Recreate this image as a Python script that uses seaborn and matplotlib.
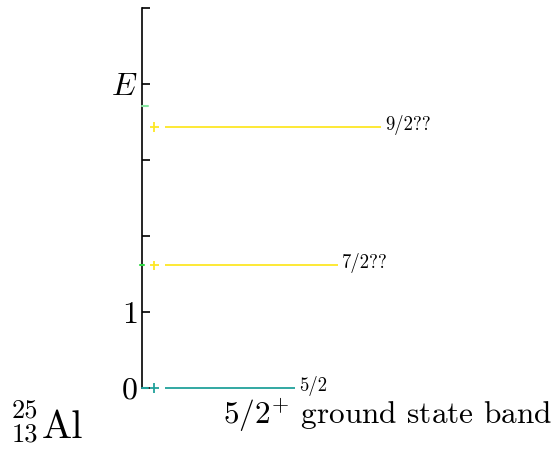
import matplotlib
matplotlib.use("Agg")
import matplotlib.pyplot as plt
import seaborn as sns
import pandas as pd

# level data (energy in MeV, spin J)
energies = [0.0, 1.613, 3.43]
spins = [2.5, 3.5, 4.5]
labels = ["5/2", "7/2??", "9/2??"]
level_colors = ["#21a19b", "#fde725", "#fde725"]

# small marks drawn on the axis spine
mark_energies = [0.0, 1.613, 3.71]
mark_colors = ["#21a19b", "#2fd845", "#86e6a0"]
mark_side = ["in", "out", "in"]

ytick_vals = [0, 1, 2, 3, 4, 5]
ytick_labels = ["0", "1", "", "", "$E$", ""]

sns.set_style("ticks")
plt.rcParams["font.family"] = "serif"
plt.rcParams["font.serif"] = ["cmr10", "DejaVu Serif"]
plt.rcParams["mathtext.fontset"] = "cm"
plt.rcParams["axes.unicode_minus"] = False
plt.rcParams["text.color"] = "black"
plt.rcParams["ytick.color"] = "black"
plt.rcParams["axes.edgecolor"] = "black"

fig = plt.figure(figsize=(5.59, 4.5), dpi=100)
ax = fig.add_axes([142 / 559, 62 / 450, 417 / 559, 380 / 450])

df = pd.DataFrame({"E": energies, "J": spins, "label": labels})

# level lines
ax.hlines(df["E"], -0.52, df["J"], colors=level_colors, lw=1.3, clip_on=False)
sns.scatterplot(x=[-0.76] * len(df), y=df["E"], marker="+", s=50,
                c=level_colors, linewidth=1.3, ax=ax, legend=False,
                clip_on=False)
for e, j, lab in zip(df["E"], df["J"], df["label"]):
    ax.text(j + 0.1, e + 0.03, lab, fontsize=13.5, va="center", ha="left")

# coloured marks at the spine
for e, c, side in zip(mark_energies, mark_colors, mark_side):
    xs = [-1.1, -1.0] if side == "out" else [-1.05, -0.9]
    ax.plot(xs, [e, e], color=c, lw=1.5, clip_on=False, zorder=5)

ax.set_xlim(-1.05, 8.65)
ax.set_ylim(0, 5)
ax.set_yticks(ytick_vals)
ax.set_yticklabels(ytick_labels, fontsize=23)
ax.set_ylabel("")
ax.set_xlabel("")
ax.tick_params(axis="y", direction="in", length=6, width=1.2, pad=3,
               colors="black")
ax.set_xticks([])
for s in ["top", "right", "bottom"]:
    ax.spines[s].set_visible(False)
ax.spines["left"].set_linewidth(1.2)

fig.text(0.693, 0.077, r"$5/2^{+}$ ground state band", fontsize=22.5,
         ha="center", va="center")
fig.text(42 / 559, 12 / 450, "Al", fontsize=29, ha="left", va="baseline")
fig.text(12 / 559, 32 / 450, "25", fontsize=19, ha="left", va="baseline")
fig.text(12 / 559, 9 / 450, "13", fontsize=19, ha="left", va="baseline")

fig.savefig("out.png", dpi=100)
